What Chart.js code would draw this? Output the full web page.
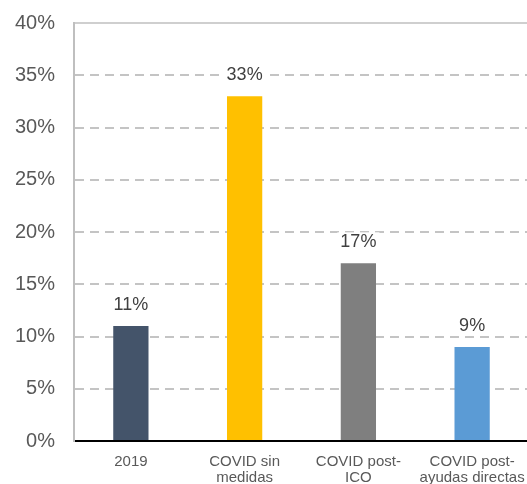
<!DOCTYPE html>
<html><head><meta charset="utf-8">
<script src="https://cdn.jsdelivr.net/npm/chart.js@4"></script>
<style>html,body{margin:0;padding:0;overflow:hidden;background:#fff}#wrap{width:529px;height:484px;position:relative}</style>
</head><body><div id="wrap"><canvas id="c"></canvas></div>
<script>
const categories = ["2019", ["COVID sin","medidas"], ["COVID post-","ICO"], ["COVID post-","ayudas directas"]];
const values = [11, 33, 17, 9];
const barColors = ["#44546A", "#FFC000", "#7F7F7F", "#5B9BD5"];
const yTicks = [0, 5, 10, 15, 20, 25, 30, 35, 40];

const FONT = "'Liberation Sans', Arial, sans-serif";

const labelPlugin = {
  id: 'labels',
  afterDatasetsDraw(chart) {
    const ctx = chart.ctx;
    const meta = chart.getDatasetMeta(0);
    ctx.save();
    ctx.font = "18px " + FONT;
    ctx.textAlign = "center";
    ctx.textBaseline = "middle";
    meta.data.forEach((bar, i) => {
      const t = values[i] + "%";
      const w = ctx.measureText(t).width;
      const y = bar.y - 21;
      ctx.fillStyle = "#FFFFFF";
      ctx.fillRect(bar.x - w / 2 - 3, y - 10, w + 6, 20);
      ctx.fillStyle = "#404040";
      ctx.fillText(t, bar.x, y);
    });
    ctx.restore();
  },
  beforeDatasetsDraw(chart) {
    const ctx = chart.ctx, a = chart.chartArea;
    const y = chart.scales.y.getPixelForValue(40);
    ctx.save();
    ctx.strokeStyle = "#BFBFBF";
    ctx.lineWidth = 1.5;
    ctx.beginPath();
    ctx.moveTo(a.left, y);
    ctx.lineTo(a.right, y);
    ctx.stroke();
    ctx.restore();
  }
};

new Chart(document.getElementById('c'), {
  type: 'bar',
  data: {
    labels: categories,
    datasets: [{ data: values, backgroundColor: barColors, barPercentage: 0.31, categoryPercentage: 1 }]
  },
  options: {
    responsive: true,
    maintainAspectRatio: false,
    animation: false,
    layout: { padding: { top: 23, right: 0, left: 0, bottom: 0 } },
    plugins: { legend: { display: false }, tooltip: { enabled: false } },
    scales: {
      x: {
        grid: { display: false, drawTicks: false, tickLength: 0 },
        border: { display: true, color: "#000000", width: 2 },
        ticks: { font: { family: FONT, size: 15, lineHeight: 1.07 }, color: "#595959", padding: 13, maxRotation: 0, autoSkip: false },
        afterFit(s) { s.height = 43; s.paddingLeft = 0; s.paddingRight = 0; s.paddingTop = 0; s.paddingBottom = 0; }
      },
      y: {
        min: 0, max: 40,
        afterBuildTicks(s) { s.ticks = yTicks.map(v => ({ value: v })); },
        grid: {
          drawTicks: false,
          color: (c) => (c.tick && (c.tick.value === 0 || c.tick.value === 40)) ? "rgba(0,0,0,0)" : "#C4C4C4",
          lineWidth: 2
        },
        border: { display: true, color: "#BFBFBF", width: 2, dash: [9, 6] },
        ticks: { font: { family: FONT, size: 20 }, color: "#595959", padding: 19, callback: (v) => v + "%" },
        afterFit(s) { s.width = 74; s.paddingLeft = 0; s.paddingRight = 0; s.paddingTop = 0; s.paddingBottom = 0; }
      }
    }
  },
  plugins: [labelPlugin]
});
</script></body></html>
